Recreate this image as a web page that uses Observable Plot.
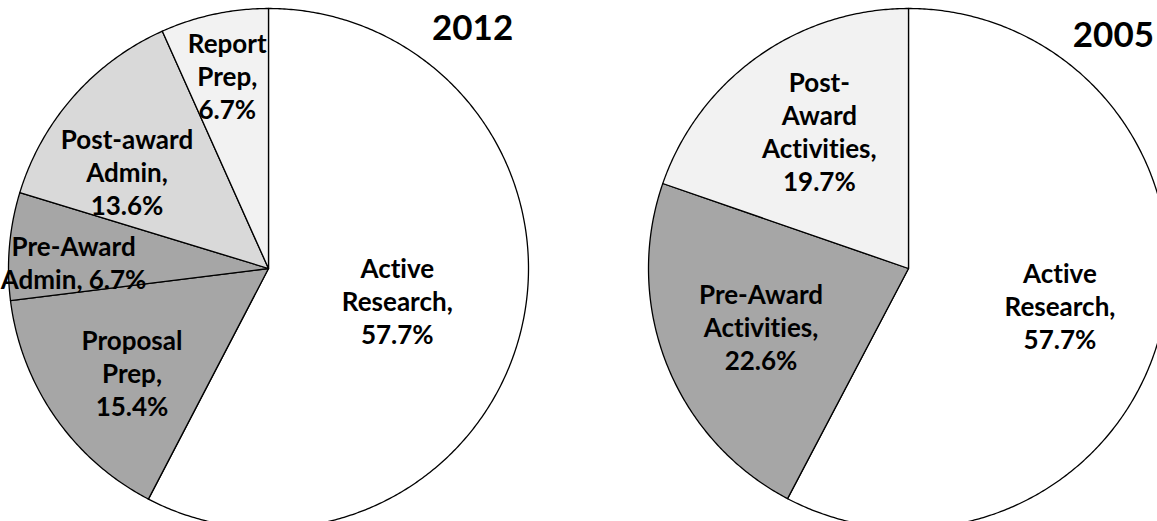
<!DOCTYPE html>
<html><head><meta charset="utf-8">
<script src="https://cdn.jsdelivr.net/npm/d3@7"></script>
<script src="https://cdn.jsdelivr.net/npm/@observablehq/plot@0.6"></script>
<style>html,body{margin:0;padding:0;background:#fff;overflow:hidden}#chart{width:1157px;height:521px;overflow:hidden}svg text{font-variant-ligatures:none;font-feature-settings:"liga" 0}</style>
</head><body><div id="chart"></div>
<script>
// ---- data ----
const years = ["2012", "2005"];
const categories2012 = ["Active\nResearch", "Proposal\nPrep", "Pre-Award\nAdmin", "Post-award\nAdmin", "Report\nPrep"];
const values2012 = [57.7, 15.4, 6.7, 13.6, 6.7];
const categories2005 = ["Active\nResearch", "Pre-Award\nActivities", "Post-\nAward\nActivities"];
const values2005 = [57.7, 22.6, 19.7];

// ---- styles / layout (kept separate from data) ----
const colors2012 = ["#ffffff", "#a6a6a6", "#a6a6a6", "#d9d9d9", "#f2f2f2"];
const colors2005 = ["#ffffff", "#a6a6a6", "#f2f2f2"];
const valueSep2012 = [",\n", ",\n", ", ", ",\n", ",\n"];
const valueSep2005 = [",\n", ",\n", ",\n"];
// label placement: radial fraction and angle nudge (deg) from slice mid-angle
const labelR2012 = [0.51, 0.66, 0.75, 0.66, 0.76];
const labelNudge2012 = [0, -2.5, -3, -7, 0];
const labelR2005 = [0.60, 0.61, 0.63];
const labelNudge2005 = [0, 0, 2.5];
const R = 260, W = 1157, H = 521;
const centers = [{cx: 0, cy: 0}, {cx: 640 / R, cy: 0}];
const titlePos = [{dx: 0.785, dy: 0.923}, {dx: 0.788, dy: 0.896}];

function buildPie(cats, vals, cols, seps, lr, ln, c) {
  const total = d3.sum(vals);
  let cum = 0;
  const slices = [], labels = [];
  vals.forEach((v, i) => {
    const a0 = cum / total * 2 * Math.PI;
    cum += v;
    const a1 = cum / total * 2 * Math.PI;
    const n = Math.max(2, Math.ceil((a1 - a0) / (Math.PI / 360)));
    const pts = [{x: c.cx, y: c.cy}];
    for (let k = 0; k <= n; k++) {
      const a = a0 + (a1 - a0) * k / n;
      pts.push({x: c.cx + Math.sin(a), y: c.cy + Math.cos(a)});
    }
    slices.push({pts, fill: cols[i]});
    const am = (a0 + a1) / 2 + ln[i] * Math.PI / 180;
    labels.push({x: c.cx + lr[i] * Math.sin(am), y: c.cy + lr[i] * Math.cos(am),
      text: cats[i] + seps[i] + v.toFixed(1) + "%"});
  });
  return {slices, labels};
}

const p1 = buildPie(categories2012, values2012, colors2012, valueSep2012, labelR2012, labelNudge2012, centers[0]);
const p2 = buildPie(categories2005, values2005, colors2005, valueSep2005, labelR2005, labelNudge2005, centers[1]);
const titles = years.map((t, i) => ({text: t, x: centers[i].cx + titlePos[i].dx, y: centers[i].cy + titlePos[i].dy}));

const marks = [];
for (const s of [...p1.slices, ...p2.slices]) {
  marks.push(Plot.line(s.pts, {x: "x", y: "y", curve: "linear-closed", fill: s.fill, stroke: "#000", strokeWidth: 1.3}));
}
marks.push(Plot.text([...p1.labels, ...p2.labels], {x: "x", y: "y", text: "text", fontSize: 26, fontWeight: "bold", lineHeight: 1.27, fill: "#000"}));
marks.push(Plot.text(titles, {x: "x", y: "y", text: "text", fontSize: 35, fontWeight: "bold", fill: "#000"}));

const chart = Plot.plot({
  width: W, height: H, margin: 0,
  x: {domain: [-268 / R, (W - 268) / R], axis: null},
  y: {domain: [-(H - 268) / R, 268 / R], axis: null},
  style: {fontFamily: "Lato", background: "#fff", overflow: "hidden"},
  marks
});
document.getElementById("chart").appendChild(chart);
</script>
</body></html>
